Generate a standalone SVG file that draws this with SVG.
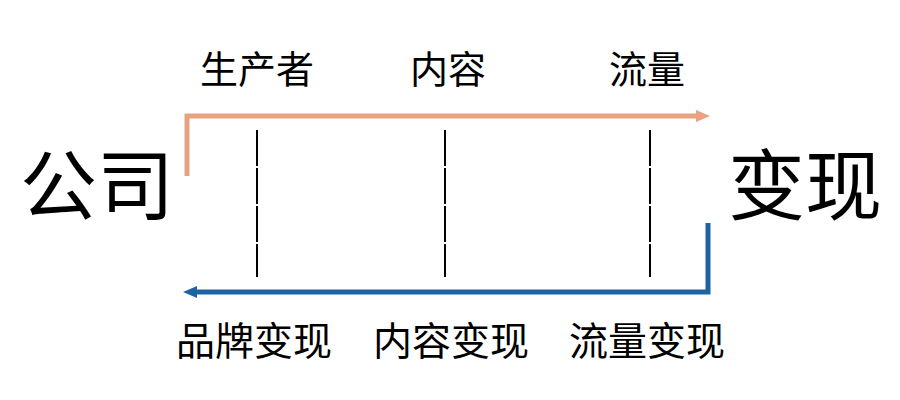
<svg xmlns="http://www.w3.org/2000/svg" width="900" height="400" viewBox="0 0 900 400">
  <defs>
    <marker id="headOrange" viewBox="0 0 14 12" markerUnits="userSpaceOnUse" markerWidth="14" markerHeight="12" refX="4" refY="6" orient="auto">
      <path d="M0,0 L14,6 L0,12 z" fill="#E9A27F"/>
    </marker>
    <marker id="headBlue" viewBox="0 0 14 12" markerUnits="userSpaceOnUse" markerWidth="14" markerHeight="12" refX="4" refY="6" orient="auto">
      <path d="M0,0 L14,6 L0,12 z" fill="#1F64A2"/>
    </marker>
  </defs>
  <style>
    .big { font-family: "Noto Sans CJK SC", "Noto Sans", sans-serif; font-size: 77px; fill: #000; }
    .top { font-family: "Noto Sans CJK SC", "Noto Sans", sans-serif; font-size: 38px; fill: #000; }
    .bot { font-family: "Noto Sans CJK SC", "Noto Sans", sans-serif; font-size: 39px; fill: #000; }
    .dash { stroke: #000; stroke-width: 2; stroke-dasharray: 36 2; fill: none; }
    .flow { fill: none; stroke-width: 5; stroke-linejoin: miter; }
  </style>
  <rect width="900" height="400" fill="#FFFFFF"/>

  <g id="company"><text class="big" x="20" y="214">公司</text></g>
  <g id="monetize"><text class="big" x="728" y="214">变现</text></g>

  <g id="producer"><text class="top" x="200" y="83">生产者</text></g>
  <g id="content"><text class="top" x="410" y="83">内容</text></g>
  <g id="traffic"><text class="top" x="609" y="83">流量</text></g>

  <g id="brand-monetize"><text class="bot" x="176" y="355">品牌变现</text></g>
  <g id="content-monetize"><text class="bot" x="373" y="355">内容变现</text></g>
  <g id="traffic-monetize"><text class="bot" x="569" y="355">流量变现</text></g>

  <g id="connectors">
    <path class="flow" d="M187,176 V116 H700" stroke="#E9A27F" marker-end="url(#headOrange)"/>
    <path class="flow" d="M708,223 V292 H193" stroke="#1F64A2" marker-end="url(#headBlue)"/>
    <line class="dash" x1="257" y1="130" x2="257" y2="277"/>
    <line class="dash" x1="445" y1="130" x2="445" y2="277"/>
    <line class="dash" x1="650" y1="130" x2="650" y2="277"/>
  </g>
</svg>
